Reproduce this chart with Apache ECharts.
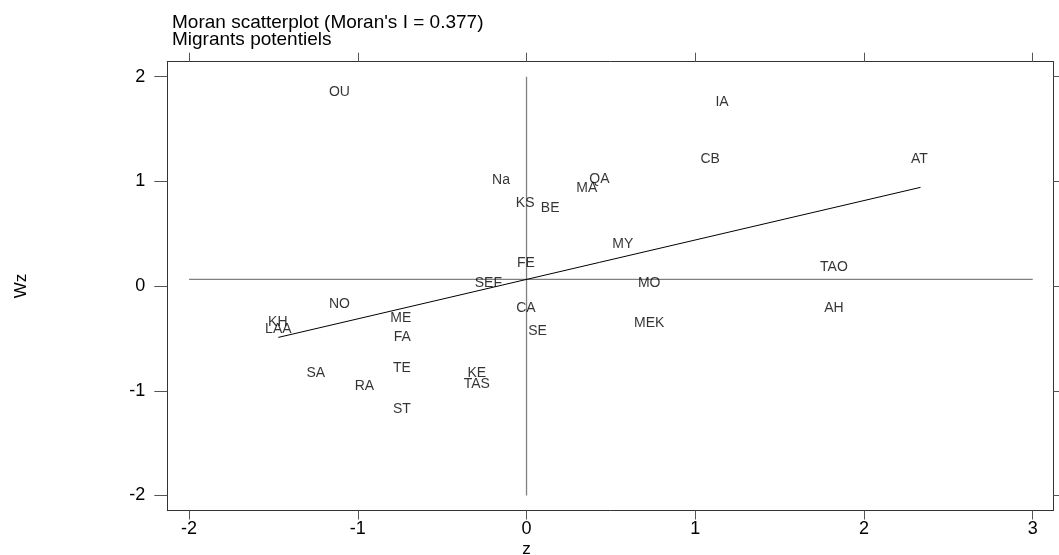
<!DOCTYPE html>
<html>
<head>
<meta charset="utf-8">
<script src="https://cdn.jsdelivr.net/npm/echarts@6/dist/echarts.min.js"></script>
<style>
html,body{margin:0;padding:0;background:#fff;}
#chart{width:1059px;height:555px;}
</style>
</head>
<body>
<div id="chart"></div>
<script>
// ---- data ----
const regionNames = ['OU','IA','CB','AT','Na','QA','MA','KS','BE','MY','FE','SEF','MO','TAO','CA','SE','MEK','AH',
  'NO','KH','LAA','ME','FA','TE','SA','RA','ST','KE','TAS'];
const zValues  = [-1.109, 1.159, 1.088, 2.329, -0.151, 0.432, 0.357, -0.008, 0.140, 0.571, -0.004, -0.226, 0.727, 1.822,
  -0.004, 0.065, 0.727, 1.822, -1.109, -1.474, -1.471, -0.745, -0.736, -0.739, -1.249, -0.961, -0.739, -0.295, -0.295];
const wzValues = [1.857, 1.758, 1.211, 1.211, 1.013, 1.020, 0.940, 0.790, 0.742, 0.398, 0.217, 0.032, 0.032, 0.179,
  -0.213, -0.427, -0.351, -0.207, -0.175, -0.341, -0.414, -0.303, -0.490, -0.787, -0.828, -0.956, -1.178, -0.828, -0.940];
const regLineZ  = [-1.471, 2.335];
const regLineWz = [-0.490, 0.943];
const meanWz = 0.064;
const meanZ = 0;
const hLineZ = [-2, 3];
const vLineWz = [-2, 2];
const xTicks = [-2, -1, 0, 1, 2, 3];
const yTicks = [-2, -1, 0, 1, 2];
const xRange = [-2.129, 3.122];
const yRange = [-2.143, 2.143];
const titleText = "Moran scatterplot (Moran's I = 0.377)\nMigrants potentiels";
const xName = 'z';
const yName = 'Wz';

const FONT = '"Liberation Sans", Arial, Helvetica, sans-serif';
const chart = echarts.init(document.getElementById('chart'), null, {renderer: 'canvas'});

const pointData = regionNames.map((n, i) => ({name: n, value: [zValues[i], wzValues[i]]}));
const regData = regLineZ.map((z, i) => [z, regLineWz[i]]);
const hData = hLineZ.map(z => [z, meanWz]);
const vData = vLineWz.map(w => [meanZ, w]);

const axisLineStyle = {color: '#333', width: 1};
const tickStyle = {color: '#555', width: 1};

function xAxisDef(pos, showLabel) {
  return {
    type: 'value', position: pos, min: xRange[0], max: xRange[1],
    axisLine: {show: true, onZero: false, lineStyle: axisLineStyle},
    axisTick: {show: true, inside: false, length: 9, lineStyle: tickStyle, customValues: xTicks},
    axisLabel: {show: showLabel, customValues: xTicks, fontSize: 18, color: '#000', fontFamily: FONT, margin: 10},
    splitLine: {show: false}
  };
}
function yAxisDef(pos, showLabel) {
  return {
    type: 'value', position: pos, min: yRange[0], max: yRange[1],
    axisLine: {show: true, onZero: false, lineStyle: axisLineStyle},
    axisTick: {show: true, inside: false, length: 13, lineStyle: tickStyle, customValues: yTicks},
    axisLabel: {show: showLabel, customValues: yTicks, fontSize: 18, color: '#000', fontFamily: FONT, margin: 22},
    splitLine: {show: false}
  };
}

const xBottom = xAxisDef('bottom', true);
const xTop = xAxisDef('top', false);
const yLeft = yAxisDef('left', true);
yLeft.name = yName;
yLeft.nameLocation = 'middle';
yLeft.nameGap = 137;
yLeft.nameTextStyle = {fontSize: 17, color: '#000', fontFamily: FONT};
const yRight = yAxisDef('right', false);

chart.setOption({
  animation: false,
  backgroundColor: '#fff',
  title: {
    text: titleText, left: 167, top: 9,
    textStyle: {fontSize: 19, fontWeight: 'normal', color: '#000', fontFamily: FONT, lineHeight: 17.5}
  },
  grid: {left: 167.3, right: 5.7, top: 61.7, bottom: 44.5, containLabel: false},
  xAxis: [xBottom, xTop],
  yAxis: [yLeft, yRight],
  series: [
    {
      type: 'line', data: hData, symbol: 'none', silent: true,
      lineStyle: {color: '#808080', width: 1.3}, z: 1
    },
    {
      type: 'line', data: vData, symbol: 'none', silent: true,
      lineStyle: {color: '#808080', width: 1.3}, z: 1
    },
    {
      type: 'line', data: regData, symbol: 'none', silent: true,
      lineStyle: {color: '#000', width: 1}, z: 2
    },
    {
      type: 'scatter', data: pointData, symbolSize: 1, silent: true,
      itemStyle: {color: 'rgba(0,0,0,0)'},
      label: {show: true, position: 'inside', formatter: p => p.name, fontSize: 14,
              color: '#000', fontFamily: FONT},
      labelLayout: {hideOverlap: false},
      z: 3
    }
  ]
});

// x-axis title placed under the z = 0 position, as in the reference
const px = chart.convertToPixel({xAxisIndex: 0}, meanZ);
chart.setOption({
  graphic: [{
    type: 'text', x: px, y: 549,
    style: {text: xName, fontSize: 17, fill: '#000', fontFamily: FONT, align: 'center', verticalAlign: 'middle'}
  }]
});
</script>
</body>
</html>
